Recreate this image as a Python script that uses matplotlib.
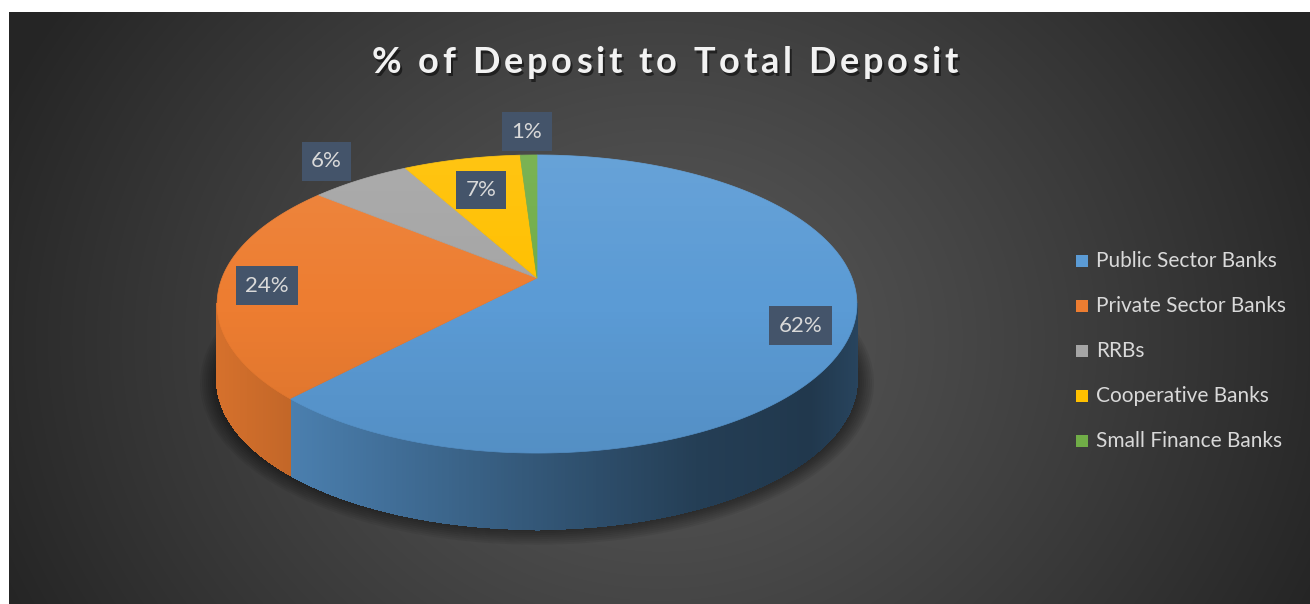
import numpy as np
import matplotlib
matplotlib.use('Agg')
import matplotlib.pyplot as plt
from matplotlib.patches import Polygon, Ellipse, Rectangle
from matplotlib.font_manager import FontProperties, findfont, get_font
from matplotlib.colors import to_rgb

# data
categories = ['Public Sector Banks', 'Private Sector Banks', 'RRBs',
              'Cooperative Banks', 'Small Finance Banks']
shares = [62, 24, 6, 7, 1]
title = '% of Deposit to Total Deposit'

# styles
colors = ['#5b9bd5', '#ed7d31', '#a5a5a5', '#ffc000', '#70ad47']
label_radius = [0.85, 0.85, 1.22, 0.71, 1.23]   # excel "best fit" placement
box_color = '#44546a'
text_color = '#d9d9d9'

W, HH = 1310, 604
fig = plt.figure(figsize=(W / 100, HH / 100), dpi=100, facecolor='white')
ax = fig.add_axes([0, 0, 1, 1])
ax.set_xlim(0, W)
ax.set_ylim(HH, 0)
ax.axis('off')

# background radial gradient
yy, xx = np.mgrid[12:HH, 9:W]
r = np.sqrt(((xx - 660) / 720.0) ** 2 + ((yy - 340) / 620.0) ** 2)
val = (0x58 - (0x58 - 0x25) * np.clip(r, 0, 1) ** 1.2) / 255.0
ax.imshow(np.dstack([val, val, val]), extent=(9, W, HH, 12), zorder=0,
          aspect='auto', interpolation='bilinear')

# perspective pie geometry (pixel space)
CX, CY = 537, 278
A, B, K = 315, 144.5, 0.1745
H = 76


def proj(t_deg, rad=1.0):
    t = np.radians(t_deg)
    u = rad * np.sin(t)
    v = rad * np.cos(t)
    w = 1 + K * v
    return CX + A * u / w, CY - B * v / w


# shadow under the pie
ecy = (proj(0)[1] + proj(180)[1]) / 2
for d in range(0, 18, 2):
    ax.add_patch(Ellipse((CX, ecy + H + 3), 2 * (321 + d), 2 * (149 + d) * 0.98,
                         facecolor='black', edgecolor='none', alpha=0.06, zorder=1))

bounds = np.concatenate([[0], np.cumsum(shares)]) * 3.6

# side wall, only the front part is visible
tt = np.linspace(0, 360, 3601)
px, _ = proj(tt)
t_right = tt[np.argmax(px)]
t_left = tt[np.argmin(px)]
seg = np.linspace(t_right, t_left, 300)


def shade(x):
    u = (x - CX) / 320.0
    return np.interp(u, [-1, -0.6, 0, 0.5, 0.85, 1],
                     [0.9, 0.76, 0.56, 0.40, 0.36, 0.44])


for i in range(len(seg) - 1):
    t1, t2 = seg[i], seg[i + 1]
    tm = (t1 + t2) / 2
    k = np.searchsorted(bounds, tm) - 1
    x1, y1 = proj(t1)
    x2, y2 = proj(t2)
    c = np.clip(np.array(to_rgb(colors[k])) * shade((x1 + x2) / 2), 0, 1)
    ax.add_patch(Polygon([(x1, y1), (x2, y2), (x2, y2 + H), (x1, y1 + H)],
                         closed=True, facecolor=c, edgecolor=c, lw=0.8,
                         antialiased=False, zorder=2))

# top face
for k, share in enumerate(shares):
    ts = np.linspace(bounds[k], bounds[k + 1], max(int(share * 4), 6))
    xs, ys = proj(ts)
    pts = [(CX, CY)] + list(zip(xs, ys))
    ax.add_patch(Polygon(pts, closed=True, facecolor=colors[k],
                         edgecolor=colors[k], lw=0.5, zorder=3))

# light from top on the top face
top_clip = Ellipse((CX, ecy), 2 * 320.5, 2 * 149.5, transform=ax.transData)
g = np.linspace(0, 1, 200)[:, None]
over = np.zeros((200, 2, 4))
over[..., :3] = np.where(g[..., None] < 0.5, 1.0, 0.0)
over[..., 3] = np.abs(g - 0.5) * 0.16
im = ax.imshow(over, extent=(CX - 330, CX + 330, ecy + 155, ecy - 155),
               aspect='auto', zorder=3.5, interpolation='bilinear')
im.set_clip_path(top_clip)

# data labels
lab_font = FontProperties(family=['Lato', 'DejaVu Sans'], size=16)
for k, share in enumerate(shares):
    mid = (bounds[k] + bounds[k + 1]) / 2
    lx, ly = proj(mid, label_radius[k])
    ax.text(lx, ly, f'{share}%', fontproperties=lab_font, color=text_color,
            ha='center', va='center', zorder=6,
            bbox=dict(boxstyle='square,pad=0.42', facecolor=box_color,
                      edgecolor='none'))

# title with letter spacing
tsize = 26
tprop = FontProperties(family=['Lato', 'DejaVu Sans'], weight='bold', size=tsize)
font = get_font(findfont(tprop))
font.set_size(tsize, 100)
adv = [font.load_char(ord(ch)).linearHoriAdvance / 65536.0 for ch in title]
target_w = 586
spacing = (target_w - sum(adv)) / (len(title) - 1)
x0 = 665 - target_w / 2
for ch, a in zip(title, adv):
    if ch != ' ':
        ax.text(x0 + 2, 73 + 2.5, ch, fontproperties=tprop, color='black',
                alpha=0.5, ha='left', va='baseline', zorder=6)
        ax.text(x0, 73, ch, fontproperties=tprop, color='#f2f2f2',
                ha='left', va='baseline', zorder=7)
    x0 += a + spacing

# legend
leg_font = FontProperties(family=['Lato', 'DejaVu Sans'], size=15)
for k, name in enumerate(categories):
    ly = 261 + 45 * k
    ax.add_patch(Rectangle((1076, ly - 6), 12, 12, facecolor=colors[k],
                           edgecolor='none', zorder=5))
    ax.text(1096, ly, name, fontproperties=leg_font, color=text_color,
            ha='left', va='center', zorder=5)

fig.savefig('out.png', dpi=100, facecolor='white')
